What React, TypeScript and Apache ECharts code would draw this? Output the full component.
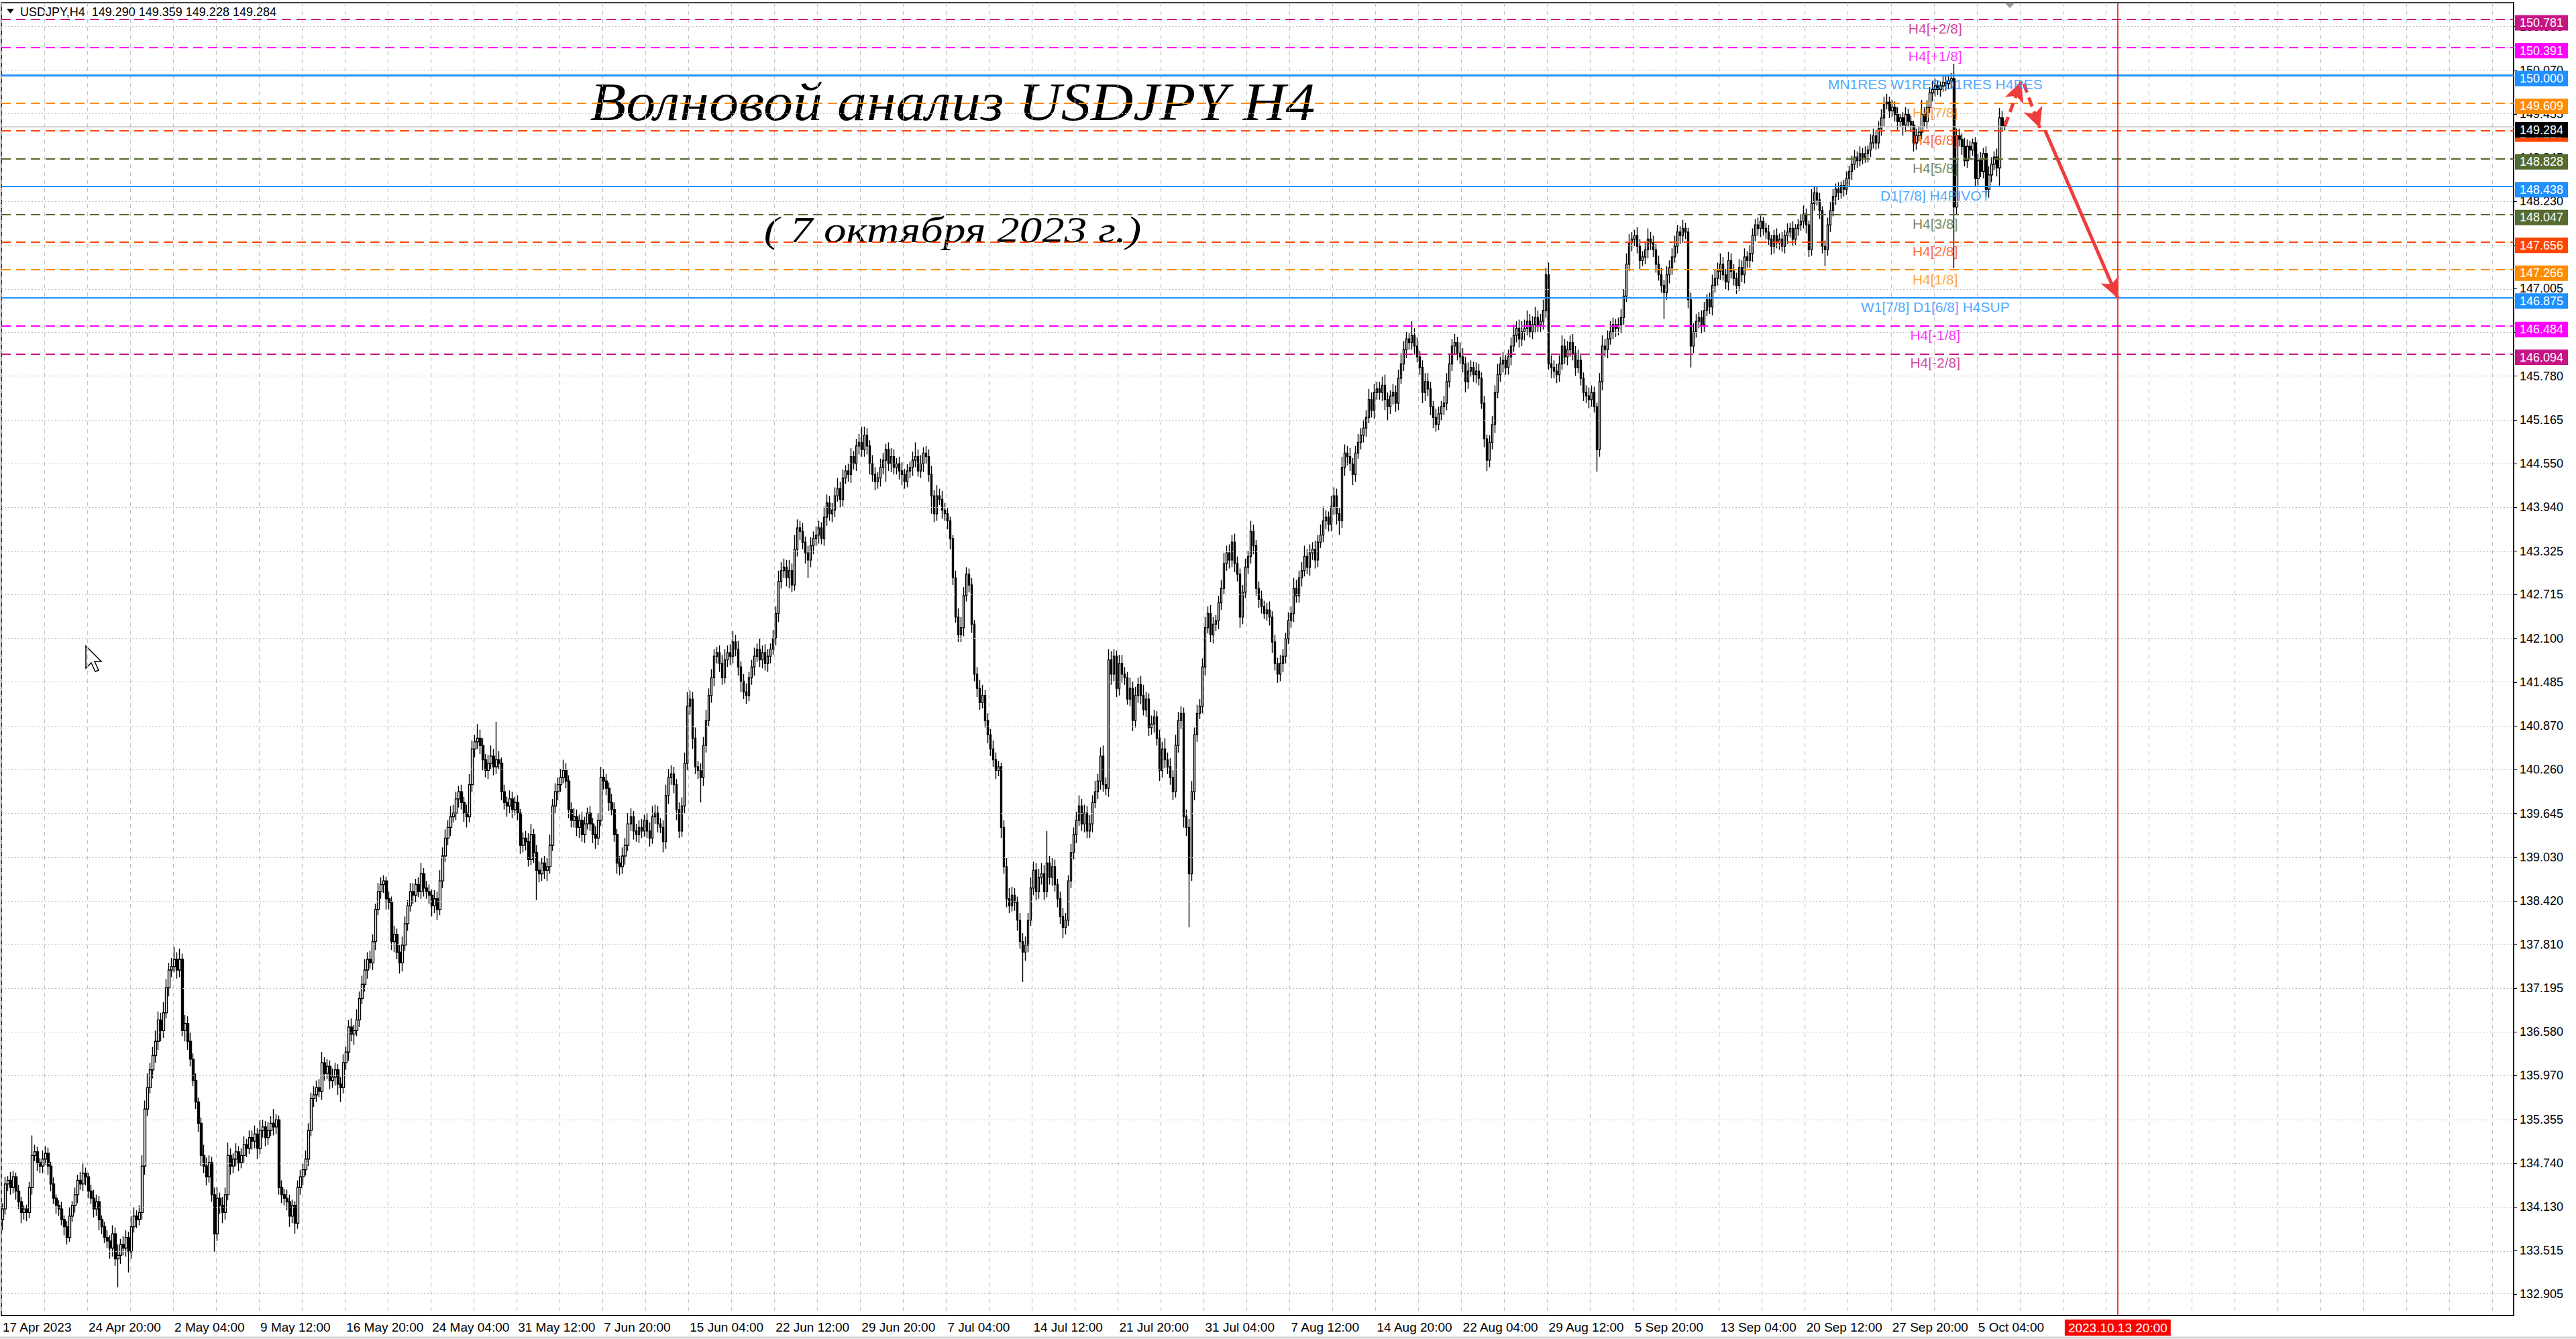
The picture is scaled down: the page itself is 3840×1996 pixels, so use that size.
import React, { useEffect, useRef } from "react";
import * as echarts from "echarts";

// USDJPY H4 closes, one row per trading day (17 Apr 12:00 .. 6 Oct 20:00)
const firstOpen = 133.95;
const closes = [
  134.10, 134.45, 134.50,
  134.40, 134.55, 134.35, 134.20, 134.05, 134.10,
  134.05, 134.40, 134.85, 134.90, 134.75, 134.70,
  134.80, 134.88, 134.70, 134.45, 134.25, 134.15,
  134.10, 133.95, 133.85, 133.70, 134.00, 134.15,
  134.30, 134.50, 134.45, 134.60, 134.55, 134.35,
  134.25, 134.10, 134.20, 133.95, 133.85, 133.70,
  133.65, 133.55, 133.75, 133.40, 133.45, 133.60,
  133.55, 133.70, 133.50, 133.85, 134.00, 133.95,
  134.05, 134.70, 135.50, 135.80, 136.05, 136.25,
  136.45, 136.75, 136.60, 136.85, 137.20, 137.45,
  137.50, 137.60, 137.45, 137.60, 136.60, 136.70,
  136.45, 136.20, 135.90, 135.60, 135.30, 134.85,
  134.70, 134.55, 134.75, 134.30, 133.75, 134.25,
  134.15, 134.05, 134.30, 134.85, 134.70, 134.80,
  134.90, 134.75, 134.85, 135.00, 134.95, 135.10,
  135.05, 135.15, 134.95, 135.20, 135.25, 135.10,
  135.20, 135.30, 135.25, 135.35, 134.40, 134.30,
  134.25, 134.20, 134.00, 134.15, 133.90, 134.40,
  134.55, 134.65, 134.80, 135.20, 135.65, 135.70,
  135.80, 135.75, 136.15, 136.00, 136.10, 135.90,
  135.95, 136.05, 135.85, 135.80, 136.15, 136.30,
  136.65, 136.55, 136.60, 136.75, 137.05, 137.25,
  137.45, 137.60, 137.55, 137.85, 138.30, 138.55,
  138.65, 138.70, 138.45, 138.40, 137.85, 137.95,
  137.70, 137.55, 137.80, 138.10, 138.35, 138.55,
  138.50, 138.65, 138.55, 138.80, 138.60, 138.55,
  138.50, 138.35, 138.45, 138.30, 138.70, 139.05,
  139.30, 139.45, 139.60, 139.65, 139.85, 139.95,
  139.80, 139.65, 139.60, 140.05, 140.55, 140.65,
  140.70, 140.60, 140.40, 140.25, 140.35, 140.45,
  140.30, 140.40, 140.35, 139.95, 139.80, 139.75,
  139.85, 139.70, 139.80, 139.65, 139.20, 139.30,
  139.25, 139.00, 139.35, 139.10, 138.85, 138.80,
  138.95, 138.85, 138.90, 139.20, 139.75, 139.95,
  140.05, 140.15, 140.25, 140.10, 139.70, 139.55,
  139.60, 139.45, 139.55, 139.35, 139.50, 139.65,
  139.50, 139.35, 139.30, 139.55, 140.15, 140.10,
  140.00, 139.80, 139.70, 139.35, 138.95, 138.90,
  139.05, 139.20, 139.50, 139.60, 139.40, 139.35,
  139.45, 139.40, 139.55, 139.40, 139.30, 139.60,
  139.65, 139.50, 139.45, 139.25, 139.90, 140.15,
  140.20, 140.05, 139.70, 139.40, 139.75, 140.35,
  141.15, 141.25, 140.70, 140.30, 140.25, 140.15,
  140.60, 140.95, 141.30, 141.55, 141.85, 141.90,
  141.75, 141.55, 141.80, 141.90, 141.85, 142.05,
  141.95, 141.70, 141.50, 141.35, 141.30, 141.55,
  141.70, 141.85, 141.95, 141.80, 141.90, 141.75,
  141.85, 141.95, 142.10, 142.45, 142.90, 143.05,
  143.10, 142.95, 143.05, 142.85, 143.35, 143.65,
  143.60, 143.45, 143.30, 143.20, 143.40, 143.50,
  143.55, 143.65, 143.50, 143.80, 144.00, 143.85,
  143.90, 144.10, 144.20, 144.05, 144.35, 144.45,
  144.40, 144.65, 144.55, 144.80, 144.85, 144.75,
  144.95, 144.80, 144.55, 144.40, 144.30, 144.35,
  144.50, 144.60, 144.75, 144.55, 144.65, 144.50,
  144.55, 144.45, 144.40, 144.30, 144.45, 144.50,
  144.60, 144.65, 144.45, 144.55, 144.70, 144.65,
  144.40, 144.10, 143.85, 144.10, 144.05, 143.90,
  143.85, 143.75, 143.50, 142.95, 142.40, 142.15,
  142.25, 142.70, 143.00, 142.85, 142.30, 141.60,
  141.40, 141.20, 141.30, 140.95, 140.75, 140.55,
  140.40, 140.25, 140.30, 139.45, 138.90, 138.45,
  138.35, 138.50, 138.40, 138.15, 137.85, 137.70,
  137.80, 138.15, 138.60, 138.85, 138.55, 138.75,
  138.80, 138.55, 138.95, 138.75, 138.90, 138.65,
  138.45, 138.20, 138.05, 138.15, 138.70, 139.10,
  139.35, 139.55, 139.75, 139.50, 139.65, 139.40,
  139.50, 139.80, 139.95, 140.10, 140.45, 140.05,
  140.00, 141.80, 141.60, 141.85, 141.40, 141.75,
  141.60, 141.55, 141.25, 141.40, 140.95, 141.30,
  141.45, 141.30, 141.10, 141.25, 140.85, 140.90,
  141.00, 140.70, 140.25, 140.55, 140.40, 140.30,
  140.15, 139.95, 140.60, 140.95, 141.05, 139.60,
  139.45, 138.80, 139.95, 140.75, 141.05, 141.15,
  141.70, 142.25, 142.45, 142.15, 142.30, 142.35,
  142.60, 142.80, 143.15, 143.30, 143.20, 143.45,
  143.15, 143.00, 142.40, 142.75, 143.10, 143.25,
  143.60, 143.40, 142.80, 142.65, 142.55, 142.45,
  142.50, 142.40, 142.05, 141.75, 141.60, 141.75,
  141.85, 142.10, 142.35, 142.45, 142.80, 142.70,
  142.95, 143.05, 143.25, 143.10, 143.30, 143.35,
  143.20, 143.45, 143.55, 143.75, 143.80, 143.70,
  143.95, 144.10, 143.85, 143.75, 144.50, 144.70,
  144.65, 144.55, 144.40, 144.70, 144.85, 144.95,
  145.05, 145.20, 145.45, 145.30, 145.55, 145.60,
  145.55, 145.65, 145.45, 145.35, 145.50, 145.55,
  145.40, 145.75, 145.95, 146.15, 146.30, 146.25,
  146.35, 146.20, 146.05, 145.90, 145.55, 145.70,
  145.60, 145.35, 145.20, 145.10, 145.25, 145.35,
  145.40, 145.70, 145.95, 146.20, 146.25, 146.10,
  146.05, 145.95, 145.70, 145.85, 145.90, 145.80,
  145.85, 145.75, 145.40, 144.90, 144.60, 144.85,
  145.10, 145.55, 145.80, 145.95, 146.00, 145.90,
  146.05, 146.20, 146.35, 146.45, 146.30, 146.40,
  146.45, 146.55, 146.40, 146.50, 146.60, 146.50,
  146.55, 146.70, 147.20, 145.95, 145.90, 145.85,
  145.80, 145.95, 146.20, 146.05, 146.15, 146.25,
  146.10, 145.90, 146.00, 145.75, 145.55, 145.50,
  145.45, 145.55, 145.35, 144.75, 145.70, 146.20,
  146.15, 146.30, 146.40, 146.50, 146.45, 146.50,
  146.60, 146.90, 147.35, 147.65, 147.70, 147.75,
  147.60, 147.40, 147.45, 147.55, 147.70, 147.65,
  147.55, 147.35, 147.20, 147.05, 146.95, 147.20,
  147.30, 147.45, 147.60, 147.80, 147.75, 147.85,
  147.80, 146.85, 146.20, 146.40, 146.55, 146.60,
  146.50, 146.70, 146.85, 146.75, 147.05, 147.15,
  147.25, 147.35, 147.20, 147.10, 147.40, 147.25,
  147.15, 147.05, 147.30, 147.20, 147.45, 147.40,
  147.50, 147.75, 147.90, 147.85, 147.95, 147.85,
  147.80, 147.70, 147.60, 147.75, 147.65, 147.70,
  147.60, 147.75, 147.80, 147.85, 147.70, 147.85,
  147.90, 147.95, 148.05, 147.90, 147.55, 148.20,
  148.35, 148.25, 148.10, 147.60, 147.55, 147.90,
  148.10, 148.30, 148.40, 148.35, 148.45, 148.40,
  148.55, 148.65, 148.75, 148.85, 148.80, 148.90,
  148.85, 148.90, 148.95, 149.05, 149.15, 149.05,
  149.25, 149.40, 149.60, 149.62, 149.50, 149.55,
  149.45, 149.35, 149.40, 149.30, 149.45, 149.35,
  149.30, 149.05, 149.15, 149.20, 149.45, 149.35,
  149.55, 149.75, 149.80, 149.85, 149.80, 149.85,
  149.90, 149.88, 149.92, 149.95, 148.15, 149.15,
  149.10, 149.00, 148.80, 149.00, 148.95, 149.05,
  148.55, 148.80, 148.65, 148.90, 148.40, 148.60,
  148.75, 148.85, 148.70, 149.40, 149.29, 149.284,
];

// upper / lower shadow beyond the body, in pips
const wickUp = [
  8, 10, 6,
  12, 8, 6, 9, 7, 5,
  6, 8, 28, 10, 7, 6,
  12, 10, 8, 6, 9, 5,
  7, 10, 6, 8, 12, 6,
  10, 8, 12, 15, 8, 6,
  9, 12, 10, 8, 6, 7,
  10, 8, 12, 9, 15, 8,
  12, 10, 8, 15, 12, 8,
  10, 15, 12, 20, 10, 12,
  15, 12, 10, 15, 12, 10,
  12, 17, 10, 15, 8, 12,
  10, 12, 8, 10, 6, 8,
  15, 12, 10, 8, 10, 15,
  8, 12, 10, 18, 10, 8,
  12, 8, 10, 12, 8, 10,
  10, 12, 8, 15, 10, 8,
  12, 10, 20, 8, 6, 10,
  8, 12, 10, 8, 6, 10,
  10, 8, 12, 10, 8, 12,
  10, 12, 15, 8, 10, 8,
  12, 10, 8, 10, 12, 8,
  10, 12, 8, 15, 10, 12,
  15, 10, 12, 10, 8, 12,
  10, 8, 6, 10, 8, 12,
  8, 10, 12, 10, 8, 12,
  12, 8, 10, 15, 8, 10,
  10, 8, 12, 10, 15, 12,
  12, 10, 15, 12, 10, 8,
  10, 8, 12, 15, 12, 10,
  20, 12, 10, 8, 12, 15,
  10, 53, 12, 8, 10, 8,
  12, 10, 8, 10, 6, 8,
  10, 12, 15, 8, 10, 12,
  8, 10, 12, 15, 10, 12,
  10, 12, 15, 10, 8, 10,
  12, 10, 8, 12, 10, 8,
  10, 8, 12, 10, 15, 12,
  10, 8, 12, 10, 8, 10,
  12, 10, 15, 12, 8, 10,
  10, 12, 8, 10, 12, 15,
  12, 10, 8, 10, 15, 12,
  12, 10, 8, 10, 12, 15,
  20, 12, 10, 15, 8, 10,
  12, 15, 10, 12, 10, 8,
  10, 12, 15, 10, 12, 15,
  10, 12, 8, 10, 12, 8,
  10, 12, 8, 15, 10, 12,
  10, 8, 12, 10, 15, 12,
  12, 10, 15, 10, 20, 12,
  10, 12, 8, 10, 12, 10,
  12, 10, 8, 15, 12, 10,
  10, 12, 15, 10, 12, 8,
  10, 12, 8, 10, 12, 22,
  12, 10, 8, 12, 10, 8,
  12, 10, 8, 10, 12, 10,
  8, 10, 12, 8, 10, 8,
  12, 20, 10, 12, 8, 10,
  10, 12, 8, 15, 10, 12,
  10, 8, 6, 5, 10, 12,
  15, 12, 10, 8, 10, 6,
  10, 12, 15, 8, 10, 8,
  12, 10, 8, 6, 10, 12,
  15, 12, 10, 8, 10, 12,
  12, 10, 15, 12, 10, 12,
  15, 12, 45, 10, 12, 10,
  8, 10, 12, 10, 8, 12,
  10, 12, 15, 10, 12, 10,
  12, 10, 15, 10, 12, 15,
  10, 15, 12, 10, 8, 12,
  12, 10, 8, 15, 10, 12,
  10, 12, 15, 10, 8, 12,
  10, 8, 12, 10, 15, 10,
  12, 10, 15, 12, 10, 8,
  10, 12, 15, 10, 12, 10,
  12, 15, 10, 12, 10, 8,
  10, 12, 15, 10, 12, 10,
  12, 10, 8, 10, 12, 8,
  15, 10, 8, 10, 12, 8,
  10, 12, 8, 10, 8, 12,
  10, 8, 12, 10, 15, 12,
  10, 12, 15, 10, 12, 10,
  12, 10, 15, 20, 10, 8,
  15, 12, 10, 8, 15, 12,
  10, 12, 8, 10, 12, 10,
  12, 10, 15, 10, 12, 10,
  10, 12, 15, 10, 8, 12,
  10, 12, 15, 12, 10, 8,
  20, 10, 12, 8, 10, 12,
  12, 10, 8, 12, 10, 8,
  10, 12, 15, 10, 12, 8,
  15, 12, 10, 12, 10, 8,
  12, 10, 8, 10, 6, 10,
  12, 10, 15, 10, 12, 8,
  10, 12, 15, 10, 12, 15,
  12, 15, 10, 12, 15, 10,
  10, 15, 10, 17, 12, 10,
  10, 12, 15, 10, 12, 10,
  12, 10, 15, 10, 8, 10,
  12, 10, 8, 6, 12, 15,
  10, 12, 15, 10, 8, 10,
  12, 10, 15, 12, 10, 8,
  12, 10, 8, 12, 15, 10,
  10, 8, 12, 10, 8, 12,
  10, 12, 15, 10, 8, 12,
  8, 6, 10, 12, 10, 8,
  10, 12, 8, 10, 15, 12,
  12, 15, 10, 8, 12, 10,
  10, 8, 12, 10, 12, 8,
  12, 10, 8, 10, 8, 6,
  8, 10, 6, 8, 10, 8,
  10, 8, 12, 8, 10, 6,
  8, 10, 12, 8, 6, 20,
  10, 8, 10, 6, 8, 10,
  12, 10, 8, 10, 6, 8,
  10, 8, 12, 10, 8, 10,
  8, 10, 6, 12, 10, 8,
  10, 12, 10, 12, 8, 10,
  8, 10, 6, 8, 10, 8,
  8, 6, 10, 8, 20, 10,
  10, 8, 12, 10, 8, 6,
  8, 10, 6, 8, 21, 10,
  10, 8, 12, 10, 8, 6,
  8, 10, 12, 8, 10, 12,
  10, 8, 12, 14, 10, 7,
];

const wickDown = [
  15, 8, 10,
  10, 8, 12, 10, 15, 10,
  12, 8, 10, 8, 12, 10,
  10, 8, 12, 10, 8, 12,
  10, 8, 12, 10, 6, 8,
  10, 12, 8, 10, 12, 10,
  8, 12, 10, 15, 10, 8,
  10, 15, 12, 10, 40, 12,
  10, 12, 29, 10, 8, 12,
  8, 10, 12, 10, 8, 12,
  10, 12, 15, 10, 8, 12,
  10, 8, 12, 10, 8, 15,
  12, 10, 8, 10, 12, 15,
  10, 12, 8, 10, 25, 10,
  12, 15, 10, 8, 12, 10,
  10, 12, 8, 10, 12, 8,
  12, 10, 15, 8, 10, 12,
  10, 8, 12, 10, 10, 12,
  10, 12, 15, 10, 15, 8,
  10, 12, 8, 10, 8, 12,
  10, 8, 12, 10, 8, 12,
  10, 12, 15, 20, 8, 10,
  12, 10, 15, 8, 10, 8,
  10, 12, 8, 10, 12, 8,
  10, 12, 15, 10, 12, 15,
  10, 15, 12, 8, 10, 8,
  12, 10, 8, 10, 12, 10,
  12, 15, 10, 15, 8, 10,
  8, 10, 12, 8, 10, 12,
  10, 12, 15, 8, 10, 12,
  10, 12, 15, 10, 12, 8,
  12, 10, 8, 12, 10, 15,
  10, 12, 8, 10, 12, 10,
  12, 10, 8, 15, 42, 12,
  10, 12, 15, 10, 8, 10,
  12, 10, 8, 10, 12, 10,
  10, 12, 15, 10, 12, 8,
  10, 12, 15, 10, 8, 12,
  10, 12, 8, 10, 15, 12,
  10, 12, 8, 10, 12, 10,
  12, 10, 8, 10, 12, 8,
  10, 12, 8, 15, 10, 12,
  10, 12, 15, 10, 8, 10,
  10, 12, 15, 10, 12, 35,
  12, 10, 8, 10, 12, 10,
  12, 10, 8, 10, 12, 10,
  10, 12, 15, 10, 12, 8,
  10, 12, 8, 10, 12, 10,
  12, 10, 8, 10, 12, 10,
  10, 12, 15, 10, 8, 10,
  12, 10, 15, 25, 10, 12,
  10, 12, 8, 10, 12, 10,
  12, 10, 8, 12, 10, 8,
  10, 12, 8, 10, 12, 10,
  10, 12, 15, 10, 12, 10,
  12, 10, 30, 10, 12, 10,
  10, 12, 15, 10, 8, 10,
  12, 10, 8, 10, 12, 10,
  10, 25, 12, 10, 8, 12,
  10, 12, 15, 10, 8, 10,
  10, 12, 8, 10, 12, 10,
  12, 10, 8, 10, 12, 10,
  10, 12, 8, 15, 10, 12,
  10, 8, 12, 15, 10, 42,
  12, 10, 8, 10, 12, 10,
  10, 12, 8, 10, 12, 10,
  12, 10, 15, 10, 8, 10,
  10, 12, 8, 10, 12, 10,
  10, 12, 8, 10, 12, 10,
  10, 12, 15, 10, 12, 10,
  12, 10, 8, 10, 15, 10,
  10, 12, 8, 10, 12, 10,
  12, 10, 15, 10, 12, 10,
  10, 12, 8, 10, 12, 15,
  12, 75, 10, 12, 10, 8,
  10, 12, 8, 10, 12, 10,
  12, 10, 8, 10, 12, 10,
  12, 10, 15, 10, 8, 10,
  10, 12, 10, 12, 10, 8,
  10, 12, 15, 10, 12, 10,
  12, 10, 8, 10, 12, 10,
  10, 12, 8, 10, 12, 10,
  12, 10, 8, 10, 12, 10,
  10, 12, 15, 20, 10, 12,
  12, 10, 15, 10, 8, 10,
  10, 12, 8, 10, 12, 10,
  10, 12, 15, 20, 10, 12,
  12, 10, 8, 10, 12, 10,
  10, 12, 8, 10, 15, 12,
  10, 12, 15, 10, 8, 10,
  12, 10, 8, 10, 12, 10,
  10, 12, 15, 10, 8, 10,
  12, 10, 8, 12, 15, 10,
  10, 12, 8, 10, 12, 10,
  10, 12, 8, 10, 12, 10,
  12, 10, 8, 10, 12, 10,
  10, 12, 10, 8, 15, 10,
  12, 10, 8, 10, 12, 10,
  10, 12, 8, 10, 12, 10,
  12, 10, 8, 31, 10, 12,
  10, 12, 8, 10, 12, 10,
  12, 10, 8, 10, 12, 10,
  10, 12, 8, 10, 12, 10,
  10, 12, 8, 10, 37, 10,
  12, 10, 8, 10, 12, 10,
  10, 12, 30, 10, 8, 10,
  12, 10, 8, 10, 12, 10,
  10, 12, 8, 10, 12, 10,
  10, 12, 8, 10, 12, 10,
  10, 12, 8, 10, 12, 10,
  10, 8, 12, 10, 8, 10,
  8, 10, 12, 8, 10, 8,
  10, 8, 10, 12, 10, 8,
  10, 8, 12, 10, 23, 8,
  10, 8, 12, 10, 8, 10,
  8, 10, 12, 8, 10, 8,
  10, 8, 12, 10, 8, 10,
  8, 10, 12, 8, 10, 8,
  10, 12, 8, 15, 10, 8,
  10, 12, 10, 8, 10, 8,
  10, 8, 12, 10, 8, 10,
  8, 10, 8, 10, 86, 10,
  10, 12, 8, 10, 12, 8,
  12, 10, 8, 10, 10, 12,
  10, 8, 12, 25, 9, 6,
];

// time-axis labels, one every 32 H4 bars
const xLabels = [
  "17 Apr 2023", "24 Apr 20:00", "2 May 04:00", "9 May 12:00", "16 May 20:00",
  "24 May 04:00", "31 May 12:00", "7 Jun 20:00", "15 Jun 04:00", "22 Jun 12:00",
  "29 Jun 20:00", "7 Jul 04:00", "14 Jul 12:00", "21 Jul 20:00", "31 Jul 04:00",
  "7 Aug 12:00", "14 Aug 20:00", "22 Aug 04:00", "29 Aug 12:00", "5 Sep 20:00",
  "13 Sep 04:00", "20 Sep 12:00", "27 Sep 20:00", "5 Oct 04:00",
];
const barsPerLabel = 32;
const barsPerGrid = 16;
const totalSlots = 936;

// price-axis ticks
const yTicks = [
  132.905, 133.515, 134.13, 134.74, 135.355, 135.97, 136.58, 137.195, 137.81, 138.42,
  139.03, 139.645, 140.26, 140.87, 141.485, 142.1, 142.715, 143.325, 143.94, 144.55,
  145.165, 145.78, 146.39, 147.005, 147.615, 148.23, 148.845, 149.455, 150.07, 150.68,
];
const yMin = 132.605;
const yMax = 151.016;

// Murrey levels
const levelPrices = [
  150.781, 150.391, 150.0, 149.609, 149.219, 148.828, 148.438,
  148.047, 147.656, 147.266, 146.875, 146.484, 146.094,
];
const levelNames = [
  "H4[+2/8]", "H4[+1/8]", "MN1RES W1RES D1RES H4RES", "H4[7/8]", "H4[6/8]",
  "H4[5/8]", "D1[7/8] H4PIVOT", "H4[3/8]", "H4[2/8]", "H4[1/8]",
  "W1[7/8] D1[6/8] H4SUP", "H4[-1/8]", "H4[-2/8]",
];
const levelColors = [
  "#C71585", "#FF00FF", "#1E90FF", "#FF8C00", "#FF4500", "#556B2F", "#1E90FF",
  "#556B2F", "#FF4500", "#FF8C00", "#1E90FF", "#FF00FF", "#C71585",
];
const levelSolid = [false, false, true, false, false, false, true, false, false, false, true, false, false];
const levelLabelBar = 720;

const bidPrice = 149.284;
const headerText = "USDJPY,H4  149.290 149.359 149.228 149.284";
const markerBar = 788;
const markerLabel = "2023.10.13 20:00";

// forecast arrows: [bar, price] from -> to
const forecastLegs = [
  [[746, 149.29], [752, 149.91]],
  [[753, 149.88], [759, 149.26]],
  [[761, 149.22], [788, 146.875]],
];
const forecastDashed = [true, true, false];

const FONT = "Liberation Sans";
const ARROW_RED = "#F03C3C";

const App: React.FC = () => {
  const chartRef = useRef<HTMLDivElement>(null);

  useEffect(() => {
    if (!chartRef.current) return;
    const chart = echarts.init(chartRef.current, undefined, { renderer: "svg" });

    const candles = closes.map((c, i) => {
      const o = i === 0 ? firstOpen : closes[i - 1];
      return [o, c, Math.min(o, c) - wickDown[i] / 100, Math.max(o, c) + wickUp[i] / 100];
    });

    const showLabel = (i: number) => i % barsPerLabel === 0 && i / barsPerLabel < xLabels.length;

    const priceTag = (text: string, bg: string) => ({
      show: true,
      position: "end",
      distance: 2,
      offset: [0, 5],
      formatter: text,
      color: "#fff",
      backgroundColor: bg,
      padding: [3, 7, 2, 7],
      fontSize: 18,
      fontFamily: FONT,
    });

    const levelLines = levelPrices.map((p, i) => ({
      yAxis: p,
      lineStyle: {
        color: levelColors[i],
        width: i === 2 ? 3 : 1.8,
        type: levelSolid[i] ? "solid" : [14, 8],
      },
      label: priceTag(p.toFixed(3), levelColors[i]),
    }));

    const arrowLines = forecastLegs.map((leg, i) => [
      { coord: leg[0], symbol: "none" },
      {
        coord: leg[1],
        symbol: "arrow",
        symbolSize: [22, 30],
        lineStyle: { color: ARROW_RED, width: 5, type: forecastDashed[i] ? [14, 8] : "solid" },
        label: { show: false },
      },
    ]);

    const option = {
      animation: false,
      backgroundColor: "#fff",
      textStyle: { fontFamily: FONT },
      grid: {
        left: 2,
        right: 93,
        top: 4,
        bottom: 35,
        show: true,
        borderColor: "#000",
        borderWidth: 1.5,
        backgroundColor: "#fff",
      },
      xAxis: {
        type: "category",
        data: Array.from({ length: totalSlots }, (_, i) => String(i)),
        boundaryGap: true,
        axisLine: { lineStyle: { color: "#000", width: 1.5 } },
        axisTick: {
          interval: showLabel,
          alignWithLabel: true,
          length: 5,
          lineStyle: { color: "#000", width: 1.5 },
        },
        axisLabel: {
          interval: showLabel,
          formatter: (_v: string, i: number) => xLabels[i / barsPerLabel] ?? "",
          align: "left",
          margin: 8,
          fontSize: 19,
          color: "#000",
          fontFamily: FONT,
        },
        splitLine: {
          show: true,
          interval: (i: number) => i % barsPerGrid === 0,
          lineStyle: { color: "#C4C4C4", type: [6, 6], width: 1.2 },
        },
      },
      yAxis: {
        type: "value",
        position: "right",
        min: yMin,
        max: yMax,
        axisLine: { show: true, lineStyle: { color: "#000", width: 1.5 } },
        axisTick: { show: true, customValues: yTicks, length: 5, lineStyle: { color: "#000" } },
        axisLabel: {
          customValues: yTicks,
          formatter: (v: number) => v.toFixed(3),
          fontSize: 18,
          color: "#000",
          margin: 9,
          fontFamily: FONT,
        },
        splitLine: { show: false },
      },
      series: [
        {
          name: "grid",
          type: "line",
          data: [],
          silent: true,
          z: 1,
          markLine: {
            silent: true,
            symbol: ["none", "none"],
            label: { show: false },
            lineStyle: { color: "#BDBDBD", type: [2, 3], width: 1.2 },
            data: yTicks.map((v) => ({ yAxis: v })),
          },
        },
        {
          name: "USDJPY,H4",
          type: "candlestick",
          data: candles,
          large: false,
          barWidth: 3,
          silent: true,
          z: 2,
          itemStyle: {
            color: "#fff",
            color0: "#000",
            borderColor: "#000",
            borderColor0: "#000",
            borderWidth: 1.4,
          },
        },
        {
          name: "levels",
          type: "scatter",
          symbolSize: 0,
          silent: true,
          z: 5,
          data: levelPrices.map((p, i) => ({
            value: [levelLabelBar, p],
            label: { color: levelColors[i] },
          })),
          label: {
            show: true,
            position: "bottom",
            distance: 3,
            fontSize: 21,
            fontFamily: FONT,
            formatter: (p: any) => levelNames[p.dataIndex],
          },
          markLine: {
            silent: true,
            symbol: ["none", "none"],
            data: [
              ...levelLines,
              {
                yAxis: bidPrice,
                lineStyle: { color: "#C0C0C0", width: 1.5, type: "solid" },
                label: priceTag(bidPrice.toFixed(3), "#000"),
              },
              {
                xAxis: markerBar,
                lineStyle: { color: "#E00000", width: 1.5, type: "solid" },
                label: {
                  show: true,
                  position: "start",
                  distance: 6,
                  formatter: markerLabel,
                  color: "#fff",
                  backgroundColor: "#FF0000",
                  padding: [3, 5, 2, 5],
                  fontSize: 19,
                  fontFamily: FONT,
                },
              },
              ...arrowLines,
            ],
          },
        },
      ],
      graphic: [
        {
          type: "polygon",
          silent: true,
          shape: { points: [[10, 13], [21, 13], [15.5, 20]] },
          style: { fill: "#000" },
        },
        {
          type: "text",
          silent: true,
          x: 30,
          y: 18,
          style: {
            text: headerText,
            font: `18px "${FONT}"`,
            fill: "#000",
            textVerticalAlign: "middle",
          },
        },
        {
          type: "polygon",
          silent: true,
          shape: { points: [[2988, 4], [3004, 4], [2996, 12]] },
          style: { fill: "#9A9A9A" },
        },
        {
          type: "text",
          silent: true,
          x: 1420,
          y: 152,
          scaleX: 1.1,
          style: {
            text: "Волновой анализ USDJPY H4",
            font: 'italic 80px "Liberation Serif"',
            fill: "#000",
            textAlign: "center",
            textVerticalAlign: "middle",
            shadowColor: "rgba(0,0,0,0.45)",
            shadowBlur: 6,
            shadowOffsetX: 4,
            shadowOffsetY: 5,
          },
        },
        {
          type: "text",
          silent: true,
          x: 1420,
          y: 343,
          scaleX: 1.24,
          style: {
            text: "( 7 октября 2023 г.)",
            font: 'italic 54px "Liberation Serif"',
            fill: "#000",
            textAlign: "center",
            textVerticalAlign: "middle",
            shadowColor: "rgba(0,0,0,0.45)",
            shadowBlur: 5,
            shadowOffsetX: 3,
            shadowOffsetY: 4,
          },
        },
        {
          type: "polygon",
          silent: true,
          shape: {
            points: [[128, 963], [128, 996], [136, 988], [142, 1001], [147, 999], [141, 986], [151, 986]],
          },
          style: { fill: "#fff", stroke: "#000", lineWidth: 1.5 },
        },
        {
          type: "line",
          silent: true,
          shape: { x1: 0, y1: 1994, x2: 3840, y2: 1994 },
          style: { stroke: "#D4D4D4", lineWidth: 3 },
        },
      ],
    };

    chart.setOption(option as any);

    return () => {
      chart.dispose();
    };
  }, []);

  return (
    <div
      ref={chartRef}
      style={{ position: "fixed", left: 0, top: 0, width: 3840, height: 1996, background: "#fff" }}
    />
  );
};

export default App;
